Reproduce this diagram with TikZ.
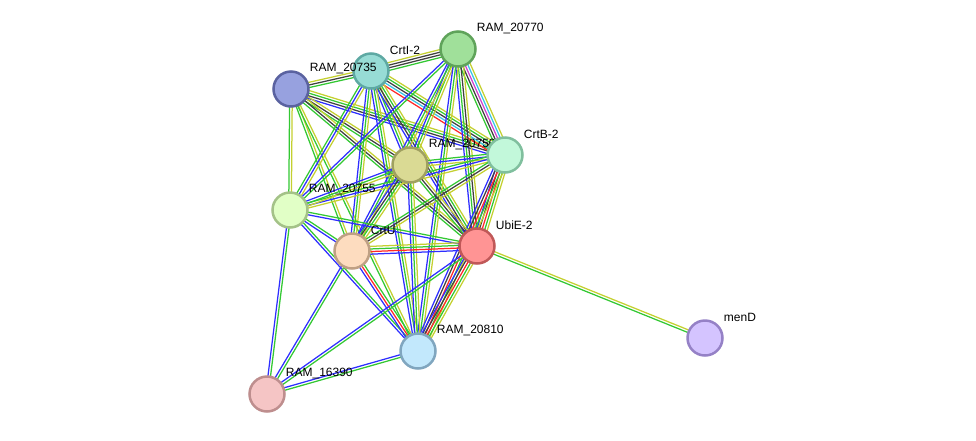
\documentclass[tikz,border=0pt]{standalone}
\usepackage{fontspec}
\setmainfont{Liberation Sans}
\usetikzlibrary{calc,backgrounds}
% evidence channel colours
\definecolor{sg}{HTML}{33C833}\definecolor{sb}{HTML}{2E2EFF}\definecolor{sk}{HTML}{404040}
\definecolor{sr}{HTML}{FF2828}\definecolor{sc}{HTML}{38C4E6}\definecolor{sm}{HTML}{D040D0}
\definecolor{sy}{HTML}{C4D030}
\tikzset{prot/.style={circle,draw,line width=2.5pt,minimum size=35pt,inner sep=0pt},
lbl/.style={font=\fontsize{12}{14}\selectfont,inner sep=0pt,anchor=west,yshift=20.5pt},
edge/.style={line width=1.25pt}}
% one band of parallel lines between two proteins
\newcommand\lnk[3]{%
\foreach \c [count=\n] in {#3} {\xdef\nlines{\n}}%
\foreach \c [count=\i] in {#3} {\pgfmathsetmacro\off{(\i-(\nlines+1)/2)*2.6}%
\draw[\c,edge] ($(#1)!\off pt!90:(#2)$) -- ($(#2)!\off pt!-90:(#1)$);}}
\begin{document}
\begin{tikzpicture}[x=1pt,y=-1pt]
\useasboundingbox (0,0) rectangle (976,440);
\node[prot,fill={rgb,255:red,151;green,220;blue,213},draw={rgb,255:red,94;green,169;blue,163},label={[lbl]0:CrtI-2}] (crtI) at (371,71) {};
\node[prot,fill={rgb,255:red,151;green,161;blue,223},draw={rgb,255:red,90;green,98;blue,160},label={[lbl]0:RAM\_20735}] (ram20735) at (291,89) {};
\node[prot,fill={rgb,255:red,160;green,224;blue,154},draw={rgb,255:red,95;green,163;blue,90},label={[lbl]0:RAM\_20770}] (ram20770) at (458,49) {};
\node[prot,fill={rgb,255:red,218;green,218;blue,148},draw={rgb,255:red,160;green,160;blue,96},label={[lbl]0:RAM\_20750}] (ram20750) at (410,165) {};
\node[prot,fill={rgb,255:red,194;green,248;blue,218},draw={rgb,255:red,128;green,191;blue,158},label={[lbl]0:CrtB-2}] (crtB) at (505,155) {};
\node[prot,fill={rgb,255:red,225;green,255;blue,198},draw={rgb,255:red,164;green,194;blue,136},label={[lbl]0:RAM\_20755}] (ram20755) at (290,210) {};
\node[prot,fill={rgb,255:red,253;green,220;blue,191},draw={rgb,255:red,191;green,160;blue,132},label={[lbl]0:CrtU}] (crtU) at (352,251) {};
\node[prot,fill={rgb,255:red,255;green,148;blue,148},draw={rgb,255:red,192;green,88;blue,88},label={[lbl]0:UbiE-2}] (ubiE) at (477,246) {};
\node[prot,fill={rgb,255:red,194;green,232;blue,252},draw={rgb,255:red,128;green,166;blue,191},label={[lbl]0:RAM\_20810}] (ram20810) at (418,351) {};
\node[prot,fill={rgb,255:red,245;green,197;blue,197},draw={rgb,255:red,190;green,142;blue,142},label={[lbl]0:RAM\_16390}] (ram16390) at (267,394) {};
\node[prot,fill={rgb,255:red,212;green,196;blue,255},draw={rgb,255:red,149;green,129;blue,198},label={[lbl]0:menD}] (menD) at (705,338) {};
\begin{scope}[on background layer]
\lnk{ram20735}{crtI}{sg,sk,sy}
\lnk{crtI}{ram20770}{sg,sk,sk,sy}
\lnk{ram20735}{crtB}{sb,sk,sg,sy}
\lnk{ram20735}{ram20750}{sg,sk,sy}
\lnk{ram20735}{ram20755}{sg,sy}
\lnk{ram20735}{crtU}{sg,sy}
\lnk{ram20735}{ubiE}{sg,sk,sy}
\lnk{ram20735}{ram20810}{sg,sy}
\lnk{crtI}{crtB}{sr,sc,sk,sg,sy}
\lnk{crtI}{ram20750}{sb,sg,sy}
\lnk{crtI}{ram20755}{sg,sb,sy}
\lnk{crtI}{crtU}{sb,sg,sy}
\lnk{crtI}{ubiE}{sb,sk,sg,sy}
\lnk{crtI}{ram20810}{sb,sg,sy}
\lnk{ram20770}{crtB}{sg,sk,sm,sc,sy}
\lnk{ram20770}{ram20750}{sb,sg,sy}
\lnk{ram20770}{ram20755}{sb,sg}
\lnk{ram20770}{crtU}{sb,sg,sy}
\lnk{ram20770}{ubiE}{sb,sg,sk,sy}
\lnk{ram20770}{ram20810}{sb,sg,sy}
\lnk{crtB}{ram20750}{sg,sb,sy}
\lnk{crtB}{ram20755}{sg,sb,sy}
\lnk{crtB}{crtU}{sg,sk,sy}
\lnk{crtB}{ubiE}{sb,sk,sr,sg,sy}
\lnk{crtB}{ram20810}{sb,sk,sr,sg,sy}
\lnk{ram20750}{ram20755}{sb,sg,sy}
\lnk{ram20750}{crtU}{sb,sk,sg,sy}
\lnk{ram20750}{ubiE}{sg,sk,sy}
\lnk{ram20750}{ram20810}{sb,sg,sy}
\lnk{ram20755}{crtU}{sb,sg}
\lnk{ram20755}{ubiE}{sb,sg}
\lnk{ram20755}{ram20810}{sb,sg}
\lnk{ram20755}{ram16390}{sb,sg}
\lnk{crtU}{ubiE}{sb,sr,sg,sy}
\lnk{crtU}{ram20810}{sb,sr,sg}
\lnk{crtU}{ram16390}{sb,sg}
\lnk{ubiE}{ram20810}{sb,sk,sr,sg,sy}
\lnk{ubiE}{ram16390}{sb,sg}
\lnk{ram20810}{ram16390}{sb,sg}
\lnk{ubiE}{menD}{sg,sy}
\end{scope}
\end{tikzpicture}
\end{document}
